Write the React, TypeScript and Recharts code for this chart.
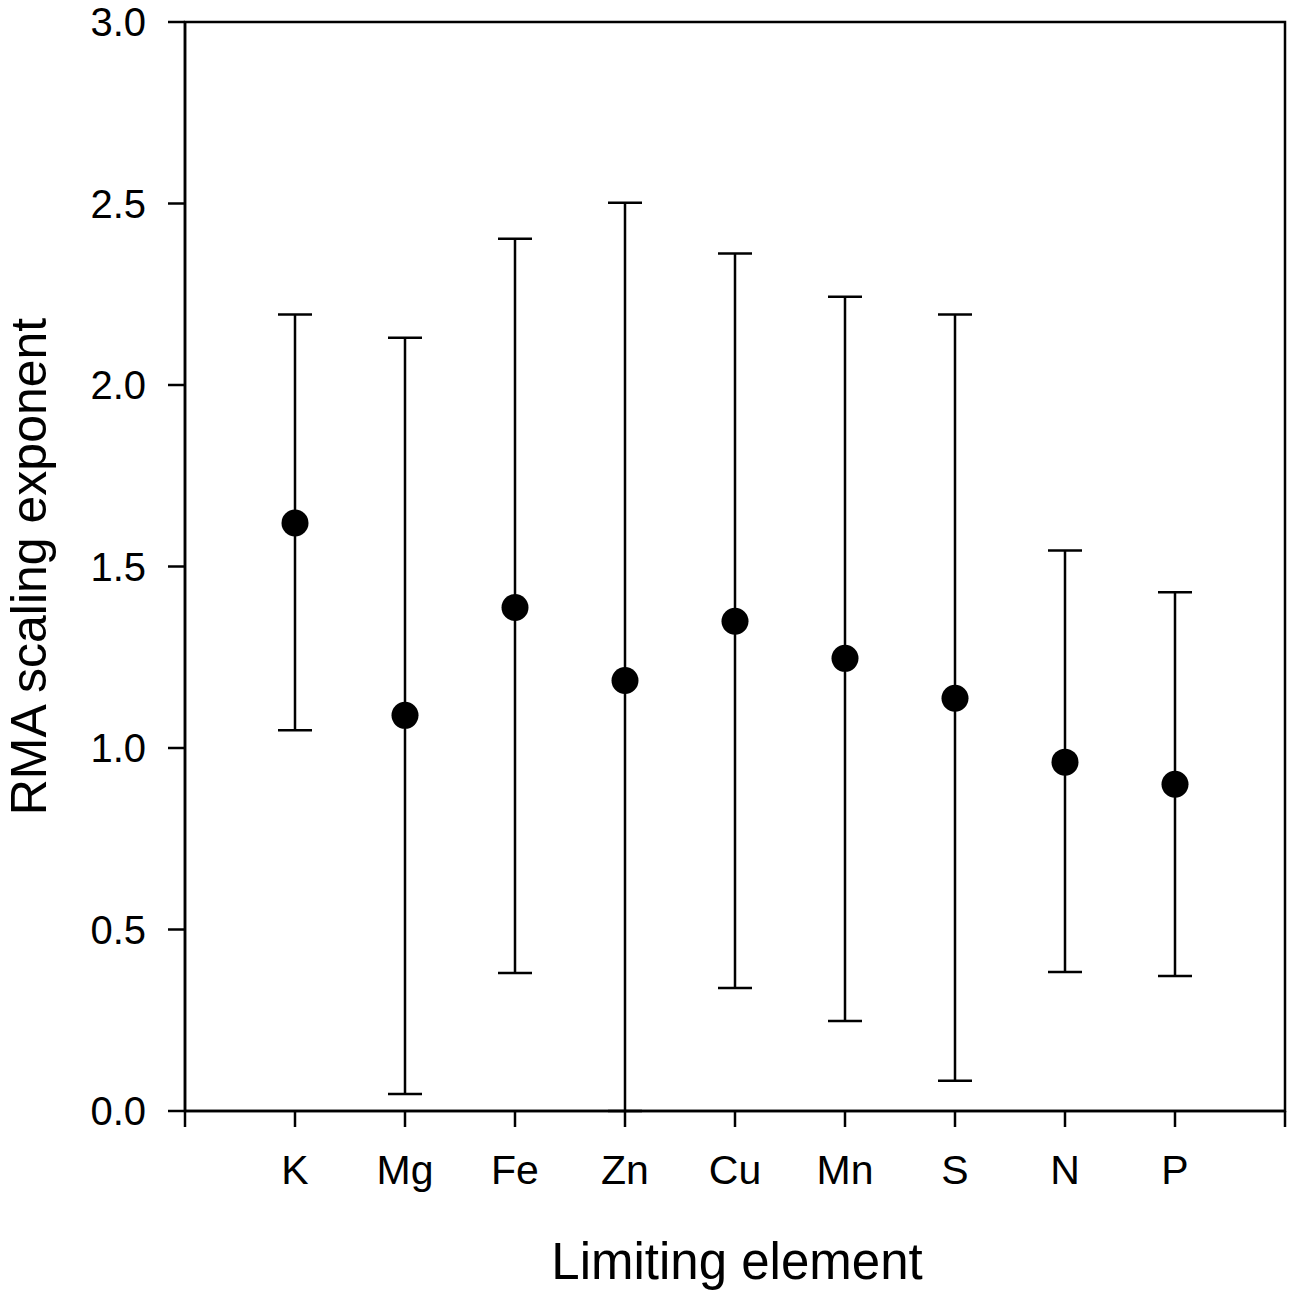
import React from 'react';
import { ComposedChart, Scatter, XAxis, YAxis, ErrorBar, ReferenceArea } from 'recharts';

const categories = ['K', 'Mg', 'Fe', 'Zn', 'Cu', 'Mn', 'S', 'N', 'P'];
const means = [1.62, 1.09, 1.387, 1.186, 1.349, 1.247, 1.137, 0.961, 0.9];
const upperCI = [2.194, 2.13, 2.403, 2.502, 2.362, 2.243, 2.194, 1.544, 1.429];
const lowerCI = [1.049, 0.047, 0.38, 0.0, 0.339, 0.248, 0.083, 0.383, 0.372];
const xTicks = [0, 1, 2, 3, 4, 5, 6, 7, 8, 9, 10];
const yTicks = [0, 0.5, 1.0, 1.5, 2.0, 2.5, 3.0];

const data = categories.map((c, i) => ({
  pos: i + 1,
  name: c,
  value: means[i],
  err: [means[i] - lowerCI[i], upperCI[i] - means[i]],
}));

const FONT = '"Liberation Sans", Arial, sans-serif';
const SW = 2.5;

const Dot = (props: any) => {
  const { cx, cy } = props;
  if (cx == null || cy == null) return null;
  return <circle cx={cx} cy={cy} r={13.5} fill="#000" />;
};

const XTitle = (props: any) => {
  const vb = props.viewBox || {};
  return (
    <text
      x={vb.x + vb.width / 2 + 2}
      y={vb.y + 168}
      textAnchor="middle"
      fontFamily={FONT}
      fontSize={51}
      fill="#000"
    >
      Limiting element
    </text>
  );
};

const YTitle = (props: any) => {
  const vb = props.viewBox || {};
  const cx = 46;
  const cy = vb.y + vb.height / 2;
  return (
    <text
      x={cx}
      y={cy}
      transform={`rotate(-90, ${cx}, ${cy})`}
      textAnchor="middle"
      fontFamily={FONT}
      fontSize={50}
      fill="#000"
    >
      RMA scaling exponent
    </text>
  );
};

export default function App() {
  return (
    <div style={{ position: 'absolute', left: 0, top: 0, width: 1299, height: 1304, background: '#fff' }}>
      <ComposedChart
        width={1299}
        height={1304}
        data={data}
        margin={{ top: 22, right: 14, bottom: 0, left: 0 }}
      >
        <XAxis
          dataKey="pos"
          type="number"
          domain={[0, 10]}
          ticks={xTicks}
          interval={0}
          tickFormatter={(v: number) => (v >= 1 && v <= 9 ? categories[v - 1] : '')}
          height={193}
          tickSize={16}
          tickMargin={28}
          axisLine={{ stroke: '#000', strokeWidth: SW }}
          tickLine={{ stroke: '#000', strokeWidth: SW }}
          tick={{ fontSize: 41, fill: '#000', fontFamily: FONT }}
          label={{ value: 'Limiting element', content: XTitle }}
        />
        <YAxis
          type="number"
          domain={[0, 3]}
          ticks={yTicks}
          interval={0}
          tickFormatter={(v: number) => v.toFixed(1)}
          width={185}
          tickSize={17}
          tickMargin={22}
          axisLine={{ stroke: '#000', strokeWidth: SW }}
          tickLine={{ stroke: '#000', strokeWidth: SW }}
          tick={{ fontSize: 40, fill: '#000', fontFamily: FONT }}
          label={{ value: 'RMA scaling exponent', content: YTitle }}
        />
        <ReferenceArea
          x1={0}
          x2={10}
          y1={0}
          y2={3}
          fill="none"
          fillOpacity={0}
          stroke="#000"
          strokeWidth={SW}
          ifOverflow="visible"
        />
        <Scatter dataKey="value" shape={Dot} isAnimationActive={false}>
          <ErrorBar dataKey="err" direction="y" width={17} stroke="#000" strokeWidth={SW} isAnimationActive={false} />
        </Scatter>
      </ComposedChart>
    </div>
  );
}
